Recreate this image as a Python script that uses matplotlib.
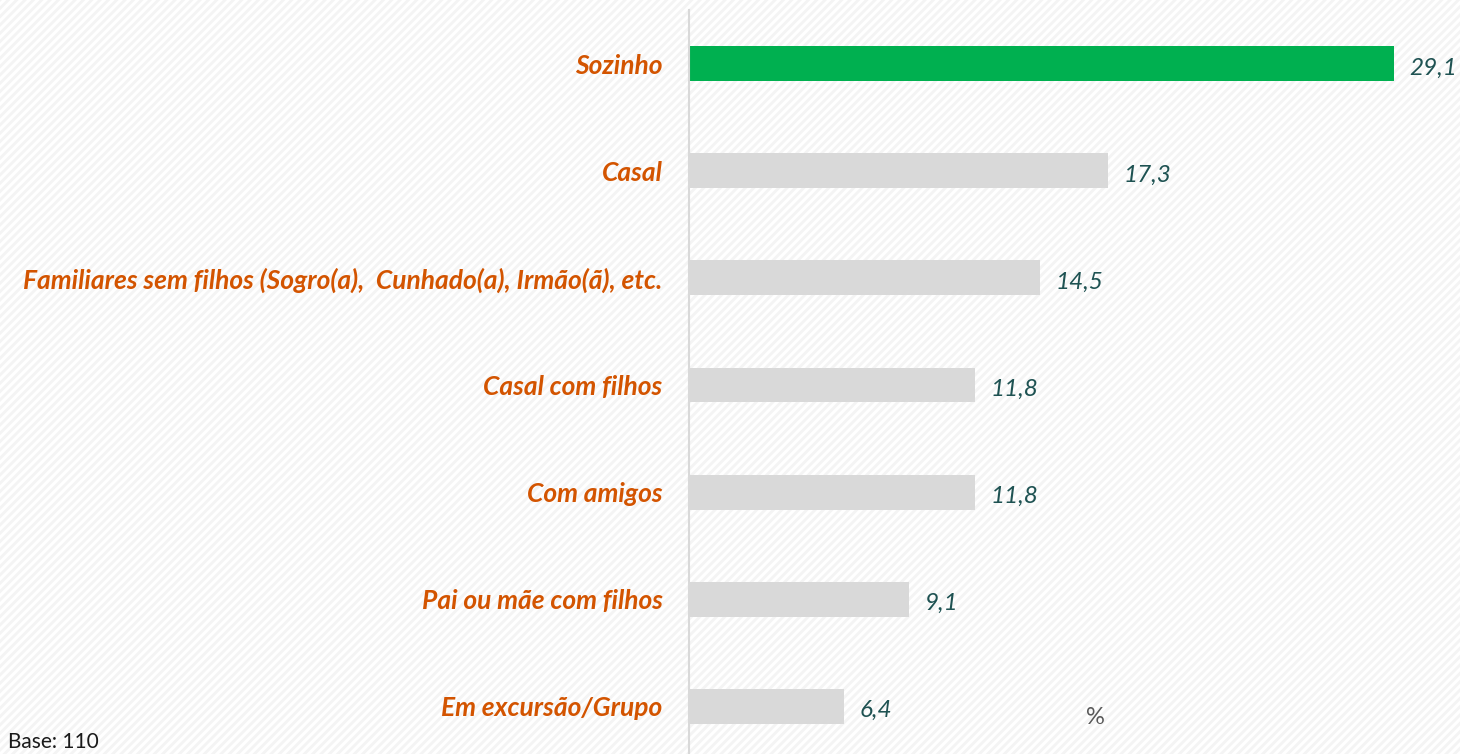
import matplotlib
matplotlib.use("Agg")
import matplotlib.pyplot as plt
from matplotlib.patches import Rectangle

categories = ["Sozinho", "Casal",
              "Familiares sem filhos (Sogro(a),  Cunhado(a), Irmão(ã), etc.",
              "Casal com filhos", "Com amigos", "Pai ou mãe com filhos",
              "Em excursão/Grupo"]
values = [29.1, 17.3, 14.5, 11.8, 11.8, 9.1, 6.4]
value_labels = ["29,1", "17,3", "14,5", "11,8", "11,8", "9,1", "6,4"]
bar_colors = ["#00B050"] + ["#D9D9D9"] * 6

FONT = "Lato"
plt.rcParams["hatch.linewidth"] = 2.0
fig = plt.figure(figsize=(14.6, 7.54), dpi=100)
fig.patch.set_facecolor("white")

# background diagonal stripes
bg = fig.add_axes([0, 0, 1, 1], zorder=0)
bg.set_axis_off()
bg.add_patch(Rectangle((0, 0), 1, 1, transform=bg.transAxes, facecolor="white",
                       edgecolor="#F4F4F4", hatch="////", linewidth=0))

ax = fig.add_axes([689 / 1460, -6 / 754, (1440 - 689) / 1460, 750 / 754], zorder=1)
ax.patch.set_alpha(0)
y = list(range(len(categories)))
ax.barh(y, values, height=0.325, color=bar_colors, zorder=2)
ax.set_ylim(len(categories) - 0.5, -0.5)
ax.set_xlim(0, 31)
for s in ["top", "right", "bottom"]:
    ax.spines[s].set_visible(False)
ax.spines["left"].set_color("#D9D9D9")
ax.spines["left"].set_linewidth(1.5)
ax.set_xticks([])
ax.set_yticks(y)
ax.set_yticklabels(categories, fontsize=19, fontstyle="italic", fontweight="bold",
                   color="#D35400", family=FONT)
ax.tick_params(axis="y", length=0, pad=19)

for yi, v, lab in zip(y, values, value_labels):
    ax.text(v + 0.65, yi + 0.04, lab, va="center", ha="left", fontsize=17.5,
            fontstyle="italic", color="#1E5252", family=FONT, clip_on=False)

fig.text(1095 / 1460, 1 - 718 / 754, "%", ha="center", va="center", fontsize=17,
         color="#595959", family=FONT)
fig.text(8 / 1460, 1 - 742 / 754, "Base: 110", ha="left", va="center", fontsize=15,
         color="#1A1A1A", family=FONT)

fig.savefig("out.png", dpi=100, facecolor=fig.get_facecolor())
